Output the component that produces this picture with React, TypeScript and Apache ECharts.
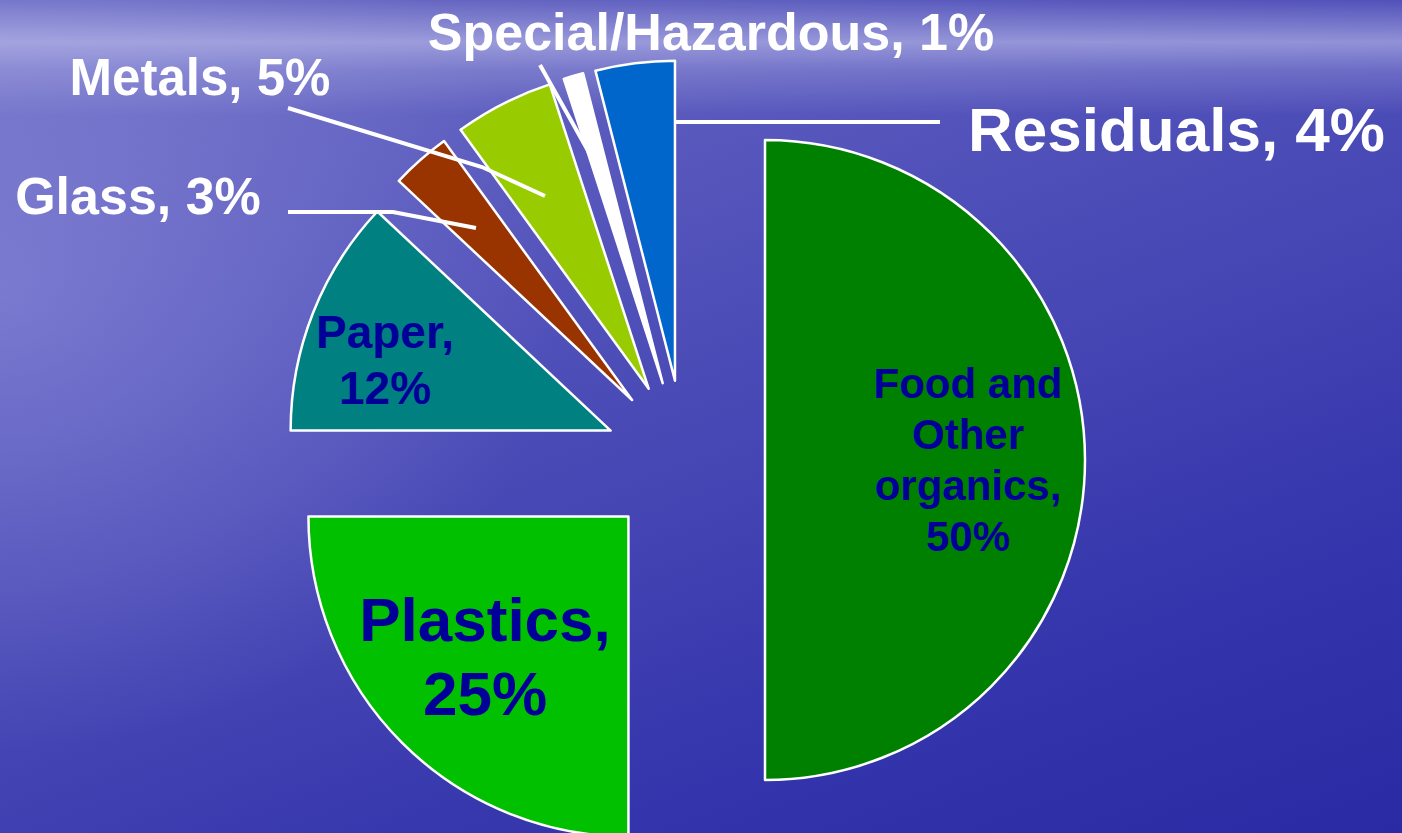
import React, { useEffect, useRef } from "react";
import * as echarts from "echarts";

// ---- data ----
const categories = [
  "Food and Other organics",
  "Plastics",
  "Paper",
  "Glass",
  "Metals",
  "Special/Hazardous",
  "Residuals",
];
const shares = [50, 25, 12, 3, 5, 1, 4];
const sliceColors = ["#008000", "#00C000", "#008080", "#993300", "#99CC00", "#FFFFFF", "#0066CC"];

// ---- label styling / placement (px, not data) ----
const FONT = 'Arial, "Liberation Sans", Helvetica, sans-serif';
const INSIDE_COLOR = "#000099";
const PIE_CENTER = [685, 460];
const PIE_RADIUS = 320;

type Placement = {
  inside: boolean;
  x: number;
  y: number;
  align: "left" | "center" | "right";
  size: number;
  lineHeight?: number;
  maxChars?: number;
  line?: number[][];
};

const placements: Placement[] = [
  { inside: true, x: 968, y: 460, align: "center", size: 42, lineHeight: 51, maxChars: 9 },
  { inside: true, x: 485, y: 656, align: "center", size: 62, lineHeight: 74, maxChars: 9 },
  { inside: true, x: 385, y: 360, align: "center", size: 46, lineHeight: 56, maxChars: 6 },
  { inside: false, x: 138, y: 196, align: "center", size: 52, line: [[476, 228], [393, 212], [288, 212]] },
  { inside: false, x: 200, y: 77, align: "center", size: 51, line: [[545, 196], [482, 167], [288, 108]] },
  { inside: false, x: 711, y: 32, align: "center", size: 52, line: [[596, 165], [568, 115], [540, 65]] },
  { inside: false, x: 968, y: 129, align: "left", size: 62, line: [[675, 122], [810, 122], [940, 122]] },
];

const BACKGROUND = [
  "linear-gradient(180deg, rgba(200,200,240,0) 0px, rgba(200,200,240,0.55) 42px, rgba(200,200,240,0.25) 70px, rgba(200,200,240,0) 115px)",
  "radial-gradient(ellipse 40% 55% at 0% 35%, rgba(150,150,225,0.5), rgba(150,150,225,0))",
  "linear-gradient(160deg, #7070c6 0%, #5858bd 28%, #4545b4 55%, #3434ac 78%, #2a2aa4 100%)",
].join(",");

// greedy word wrap by character count
function wrap(text: string, maxChars?: number): string {
  if (!maxChars) return text;
  const words = text.split(" ");
  const lines: string[] = [];
  let cur = "";
  for (const w of words) {
    const next = cur ? cur + " " + w : w;
    if (cur && next.length > maxChars) {
      lines.push(cur);
      cur = w;
    } else {
      cur = next;
    }
  }
  if (cur) lines.push(cur);
  return lines.join("\n");
}

export default function App() {
  const ref = useRef<HTMLDivElement>(null);

  useEffect(() => {
    if (!ref.current) return;
    const chart = echarts.init(ref.current, undefined, { renderer: "svg" });

    // exploded slices
    const sliceData = categories.map((name, i) => ({
      name,
      value: shares[i],
      selected: true,
      itemStyle: { color: sliceColors[i] },
    }));

    // labels (same geometry, not exploded, transparent)
    const labelData = categories.map((name, i) => {
      const p = placements[i];
      return {
        name,
        value: shares[i],
        label: {
          position: p.inside ? "inside" : "outside",
          color: p.inside ? INSIDE_COLOR : "#FFFFFF",
          fontSize: p.size,
          lineHeight: p.lineHeight ?? Math.round(p.size * 1.2),
        },
        labelLine: { show: !p.inside },
      };
    });

    chart.setOption({
      animation: false,
      backgroundColor: "transparent",
      series: [
        {
          type: "pie",
          z: 2,
          center: PIE_CENTER,
          radius: [0, PIE_RADIUS],
          startAngle: 90,
          clockwise: true,
          selectedMode: "multiple",
          selectedOffset: 80,
          silent: true,
          emphasis: { disabled: true },
          itemStyle: { borderColor: "#FFFFFF", borderWidth: 2.5 },
          select: { itemStyle: { borderColor: "#FFFFFF", borderWidth: 2.5 } },
          label: { show: false },
          labelLine: { show: false },
          data: sliceData,
        },
        {
          type: "pie",
          z: 6,
          center: PIE_CENTER,
          radius: [0, PIE_RADIUS],
          startAngle: 90,
          clockwise: true,
          silent: true,
          avoidLabelOverlap: false,
          emphasis: { disabled: true },
          itemStyle: { color: "rgba(0,0,0,0)", borderWidth: 0 },
          label: {
            fontFamily: FONT,
            fontWeight: "bold",
            formatter: (prm: any) =>
              wrap(`${prm.name}, ${prm.value}%`, placements[prm.dataIndex].maxChars),
          },
          labelLine: { lineStyle: { color: "#FFFFFF", width: 4 } },
          labelLayout: (params: any) => {
            const p = placements[params.dataIndex];
            const out: any = { x: p.x, y: p.y, align: p.align, verticalAlign: "middle" };
            if (p.line) out.labelLinePoints = p.line;
            return out;
          },
          data: labelData,
        },
      ],
    });

    return () => chart.dispose();
  }, []);

  return (
    <div
      ref={ref}
      style={{
        position: "fixed",
        left: 0,
        top: 0,
        width: 1402,
        height: 833,
        background: BACKGROUND,
      }}
    />
  );
}
